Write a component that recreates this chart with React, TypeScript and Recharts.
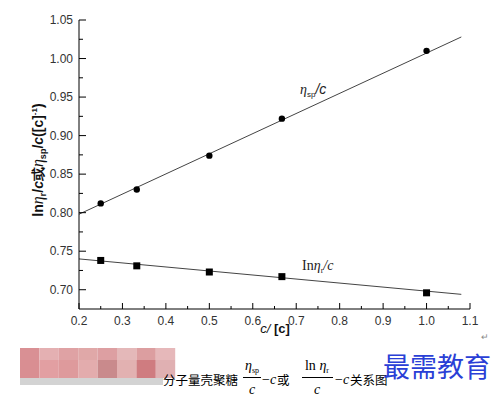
import React from "react";
import { ComposedChart, Line, Scatter, XAxis, YAxis } from "recharts";

// measured points
const conc = [0.25, 0.333, 0.5, 0.667, 1.0];
const etaSpOverC = [0.812, 0.83, 0.874, 0.922, 1.01];
const lnEtaROverC = [0.738, 0.731, 0.723, 0.717, 0.696];

// linear fits (end points)
const fitConc = [0.2, 1.08];
const fitEtaSp = [0.798, 1.028];
const fitLnEtaR = [0.74, 0.694];

const xMajorTicks = [0.2, 0.3, 0.4, 0.5, 0.6, 0.7, 0.8, 0.9, 1.0, 1.1];
const xMinorTicks = [0.25, 0.35, 0.45, 0.55, 0.65, 0.75, 0.85, 0.95, 1.05];
const xTickLabels = ["0.2", "0.3", "0.4", "0.5", "0.6", "0.7", "0.8", "0.9", "1.0", "1.1"];

const yMajorTicks = [0.7, 0.75, 0.8, 0.85, 0.9, 0.95, 1.0, 1.05];
const yMinorTicks = [0.725, 0.775, 0.825, 0.875, 0.925, 0.975, 1.025];
const yTickLabels = ["0.70", "0.75", "0.80", "0.85", "0.90", "0.95", "1.00", "1.05"];

// pixelated watermark blocks under the chart
const blurTop = ["#d99094", "#e4b0b2", "#dfa2a4", "#e0a8a8", "#dd9fa2", "#e4b8b9", "#dc9ea0", "#e6b8ba"];
const blurBottom = ["#d98e92", "#e29fa2", "#de9a9c", "#e3acad", "#c98a8c", "#e2b1b1", "#cf7c80", "#e0b0b2"];

const toRows = (xs: number[], ys: number[]) => xs.map((c, i) => ({ c, v: ys[i] }));

const spPoints = toRows(conc, etaSpOverC);
const rPoints = toRows(conc, lnEtaROverC);
const spFit = toRows(fitConc, fitEtaSp);
const rFit = toRows(fitConc, fitLnEtaR);

const findMajor = (list: number[], v: number) =>
  list.findIndex((t) => Math.abs(t - v) < 1e-6);

function XTick(props: any) {
  const { x, y, payload } = props;
  const i = findMajor(xMajorTicks, payload.value);
  const major = i >= 0;
  return (
    <g>
      <line x1={x} x2={x} y1={y} y2={y - (major ? 6 : 3)} stroke="#000" />
      {major && (
        <text x={x} y={y + 16} textAnchor="middle" fontSize={12} fill="#333"
          fontFamily="Liberation Sans, Arial, sans-serif">
          {xTickLabels[i]}
        </text>
      )}
    </g>
  );
}

function YTick(props: any) {
  const { x, y, payload } = props;
  const i = findMajor(yMajorTicks, payload.value);
  const major = i >= 0;
  return (
    <g>
      <line x1={x} x2={x + (major ? 7 : 4)} y1={y} y2={y} stroke="#000" />
      {major && (
        <text x={x - 6} y={y + 4} textAnchor="end" fontSize={12} fill="#333"
          fontFamily="Liberation Sans, Arial, sans-serif">
          {yTickLabels[i]}
        </text>
      )}
    </g>
  );
}

const circle = (p: any) => <circle cx={p.cx} cy={p.cy} r={3.2} fill="#000" />;
const square = (p: any) => <rect x={p.cx - 3.5} y={p.cy - 3.5} width={7} height={7} fill="#000" />;

const serif = "Liberation Serif, Times New Roman, serif";
const sans = "Liberation Sans, Arial, sans-serif";
const cjk = "Noto Sans CJK SC, sans-serif";

export default function App() {
  return (
    <div style={{ position: "absolute", left: 0, top: 0, width: 502, height: 397, background: "#fff" }}>
      <ComposedChart
        width={502}
        height={397}
        margin={{ top: 20, right: 32, bottom: 0, left: 0 }}
      >
        <XAxis
          type="number"
          dataKey="c"
          domain={[0.2, 1.1]}
          allowDataOverflow
          ticks={[...xMajorTicks, ...xMinorTicks].sort((a, b) => a - b)}
          interval={0}
          tick={<XTick />}
          tickLine={false}
          tickSize={0}
          tickMargin={0}
          height={88}
          axisLine={{ stroke: "#000" }}
        />
        <YAxis
          type="number"
          dataKey="v"
          domain={[0.675, 1.05]}
          allowDataOverflow
          ticks={[...yMajorTicks, ...yMinorTicks].sort((a, b) => a - b)}
          interval={0}
          tick={<YTick />}
          tickLine={false}
          tickSize={0}
          tickMargin={0}
          width={79}
          axisLine={{ stroke: "#000" }}
        />
        <Line data={spFit} dataKey="v" type="linear" stroke="#444" strokeWidth={1} dot={false} isAnimationActive={false} />
        <Line data={rFit} dataKey="v" type="linear" stroke="#444" strokeWidth={1} dot={false} isAnimationActive={false} />
        <Scatter data={spPoints} dataKey="v" shape={circle} isAnimationActive={false} />
        <Scatter data={rPoints} dataKey="v" shape={square} isAnimationActive={false} />
      </ComposedChart>

      <svg width={502} height={397} style={{ position: "absolute", left: 0, top: 0, pointerEvents: "none" }}>
        {/* axis titles */}
        <text transform="rotate(-90 43 160)" x={43} y={160} textAnchor="middle" fontSize={14}
          fontFamily={sans} fontWeight="bold" fill="#111">
          ln<tspan fontStyle="italic" fontFamily={serif} fontWeight="normal" fontSize={16}>η</tspan>
          <tspan fontSize={9} dy={3}>r</tspan>
          <tspan dy={-3}>/</tspan><tspan fontStyle="italic">c</tspan>或
          <tspan fontStyle="italic" fontFamily={serif} fontWeight="normal" fontSize={16}>η</tspan>
          <tspan fontSize={9} dy={3}>sp</tspan>
          <tspan dy={-3}>/</tspan><tspan fontStyle="italic">c</tspan>([c]
          <tspan fontSize={8} dy={-6}>-1</tspan>
          <tspan dy={6}>)</tspan>
        </text>
        <text x={275} y={333} textAnchor="middle" fontSize={13} fontFamily={sans} fill="#111">
          <tspan fontStyle="italic">c/</tspan> <tspan fontWeight="bold">[c]</tspan>
        </text>

        {/* series annotations */}
        <text x={300} y={94} fontSize={14} fontFamily={sans} fill="#222">
          <tspan fontStyle="italic" fontFamily={serif}>η</tspan>
          <tspan fontSize={8} dy={3}>sp</tspan>
          <tspan dy={-3} fontStyle="italic">/c</tspan>
        </text>
        <text x={302} y={270} fontSize={14} fontFamily={serif} fill="#222">
          In<tspan fontStyle="italic">η</tspan>
          <tspan fontSize={8} dy={3}>r</tspan>
          <tspan dy={-3} fontStyle="italic">/c</tspan>
        </text>

        {/* pixelated watermark */}
        {blurTop.map((col, i) => (
          <rect key={"t" + i} x={20 + i * 19.4} y={348} width={19.4} height={12} fill={col} />
        ))}
        {blurBottom.map((col, i) => (
          <rect key={"b" + i} x={20 + i * 19.4} y={360} width={19.4} height={18} fill={col} />
        ))}
        <rect x={20} y={378} width={143} height={7} fill="#d3d3d3" />

        {/* caption */}
        <text x={163} y={385} fontSize={12.5} fontFamily={cjk} fill="#000">分子量壳聚糖</text>
        <text x={252} y={370} textAnchor="middle" fontSize={14} fontFamily={serif} fill="#000">
          <tspan fontStyle="italic">η</tspan><tspan fontSize={8} dy={3}>sp</tspan>
        </text>
        <line x1={243} x2={261} y1={377.5} y2={377.5} stroke="#000" />
        <text x={252} y={394} textAnchor="middle" fontSize={14} fontFamily={serif} fontStyle="italic" fill="#000">c</text>
        <text x={262} y={384} fontSize={14} fontFamily={serif} fill="#000">
          −<tspan fontStyle="italic">c</tspan>
        </text>
        <text x={277} y={385} fontSize={12.5} fontFamily={cjk} fill="#000">或</text>
        <text x={317} y={370} textAnchor="middle" fontSize={14} fontFamily={serif} fill="#000">
          ln <tspan fontStyle="italic">η</tspan><tspan fontSize={8} dy={3}>r</tspan>
        </text>
        <line x1={302} x2={333} y1={377.5} y2={377.5} stroke="#000" />
        <text x={317} y={394} textAnchor="middle" fontSize={14} fontFamily={serif} fontStyle="italic" fill="#000">c</text>
        <text x={335} y={384} fontSize={14} fontFamily={serif} fill="#000">
          −<tspan fontStyle="italic">c</tspan>
        </text>
        <text x={350} y={385} fontSize={12.5} fontFamily={cjk} fill="#000">关系图</text>

        <text x={383} y={377} fontSize={27} fontFamily={cjk} fill="#2a3fd6">最需教育</text>
        <text x={481} y={340} fontSize={9} fontFamily={sans} fill="#888">↵</text>
      </svg>
    </div>
  );
}
